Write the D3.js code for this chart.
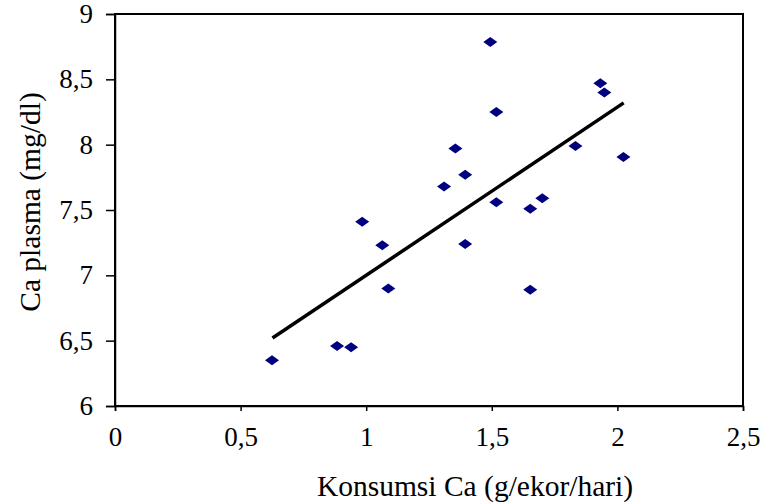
<!DOCTYPE html>
<meta charset="utf-8">
<style>
body { margin: 0; background: #fff; }
text { font-family: "Liberation Serif", "Times New Roman", serif; fill: #000; }
.tick text { font-size: 27px; }
.axis path, .axis line { stroke: #000; stroke-width: 1.5px; }
</style>
<svg width="763" height="503"></svg>
<script src="https://d3js.org/d3.v7.min.js"></script>
<script>

// konsumsi Ca (g/ekor/hari) vs Ca plasma (mg/dl)
var konsumsi = [0.625, 0.884, 0.94, 0.984, 1.064, 1.088, 1.31, 1.355, 1.394, 1.394,
                1.494, 1.518, 1.518, 1.653, 1.653, 1.701, 1.833, 1.932, 1.948, 2.024];
var plasma   = [6.35, 6.46, 6.45, 7.41, 7.23, 6.90, 7.68, 7.97, 7.77, 7.24,
                8.785, 8.25, 7.56, 7.51, 6.89, 7.59, 7.99, 8.47, 8.40, 7.905];
var trendX = [0.627, 2.025];
var trendY = [6.52, 8.32];
var xTicks = [0, 0.5, 1, 1.5, 2, 2.5];
var yTicks = [6, 6.5, 7, 7.5, 8, 8.5, 9];

var svg = d3.select("svg"),
    pl = 115, pr = 743, pt = 14, pb = 406;

var x = d3.scaleLinear().domain([0, 2.5]).range([pl, pr]);
var y = d3.scaleLinear().domain([6, 9]).range([pb, pt]);
var fmt = function(d) { return String(d).replace(".", ","); };

// frame
svg.append("rect")
    .attr("x", pl).attr("y", pt)
    .attr("width", pr - pl).attr("height", pb - pt)
    .attr("fill", "none").attr("stroke", "#000").attr("stroke-width", 2);

svg.append("g")
    .attr("class", "axis")
    .attr("transform", "translate(0," + pb + ")")
    .call(d3.axisBottom(x).tickValues(xTicks).tickFormat(fmt).tickSize(5).tickPadding(16))
    .call(function(g) { g.select(".domain").attr("stroke-width", 2); });

svg.append("g")
    .attr("class", "axis")
    .attr("transform", "translate(" + pl + ",0)")
    .call(d3.axisLeft(y).tickValues(yTicks).tickFormat(fmt).tickSize(9).tickPadding(13))
    .call(function(g) { g.select(".domain").attr("stroke-width", 2); });

svg.selectAll(".axis").attr("font-family", null).attr("font-size", null);

// trend line
svg.append("line")
    .attr("x1", x(trendX[0])).attr("y1", y(trendY[0]))
    .attr("x2", x(trendX[1])).attr("y2", y(trendY[1]))
    .attr("stroke", "#000").attr("stroke-width", 3.5);

// diamonds
svg.append("g").selectAll("path")
    .data(konsumsi)
    .join("path")
    .attr("transform", function(d, i) { return "translate(" + x(d) + "," + y(plasma[i]) + ")"; })
    .attr("d", "M0,-5L7,0L0,5L-7,0Z")
    .attr("fill", "#000080");

svg.append("text")
    .attr("x", 475).attr("y", 496)
    .attr("text-anchor", "middle")
    .attr("font-size", 29.5)
    .text("Konsumsi Ca (g/ekor/hari)");

svg.append("text")
    .attr("transform", "translate(40,202) rotate(-90)")
    .attr("text-anchor", "middle")
    .attr("font-size", 29.5)
    .text("Ca plasma (mg/dl)");

</script>
